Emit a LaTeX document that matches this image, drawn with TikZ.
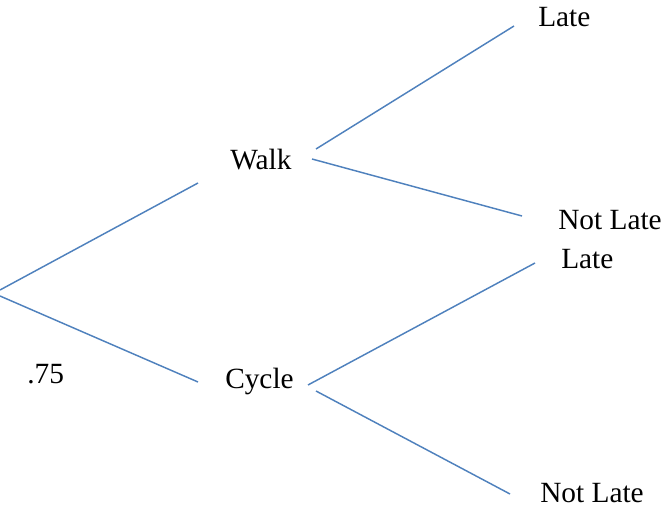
\documentclass[tikz,border=0pt]{standalone}
\usepackage{fontspec}
\setmainfont{Liberation Serif}
\usetikzlibrary{positioning}
\definecolor{branchblue}{RGB}{79,129,189}
\tikzset{treetext/.style={anchor=base west,inner sep=0pt,font=\rmfamily\fontsize{22}{26}\selectfont},
branch/.style={draw=branchblue,line width=1.1pt}}
\begin{document}
\begin{tikzpicture}[x=0.75pt,y=-0.75pt]
  \useasboundingbox (0,0) rectangle (669,528);
  \node (walk) [treetext] at (230,170) {Walk};
  \node (cycle) [treetext] at (225,388) {Cycle};
  \node (late1) [treetext] at (538,27) {Late};
  \node (notlate1) [treetext] at (558,230) {Not Late};
  \node (late2) [treetext] at (561,269) {Late};
  \node (notlate2) [treetext] at (540,502) {Not Late};
  \node (prob) [treetext] at (27,383) {.75};

  \coordinate (root1) at (0,290);
  \coordinate (root2) at (0,296);
  \coordinate (walkin) at (198,183);
  \coordinate (cyclein) at (198,382);
  \coordinate (walkout1) at (316,149);
  \coordinate (walkout2) at (312,159);
  \coordinate (cycleout1) at (308,385);
  \coordinate (cycleout2) at (316,391);
  \coordinate (late1in) at (514,26);
  \coordinate (notlate1in) at (522,216);
  \coordinate (late2in) at (535,263);
  \coordinate (notlate2in) at (510,494);

  \draw [branch] (root1) -- (walkin);
  \draw [branch] (root2) -- (cyclein);
  \draw [branch] (walkout1) -- (late1in);
  \draw [branch] (walkout2) -- (notlate1in);
  \draw [branch] (cycleout1) -- (late2in);
  \draw [branch] (cycleout2) -- (notlate2in);
\end{tikzpicture}
\end{document}
